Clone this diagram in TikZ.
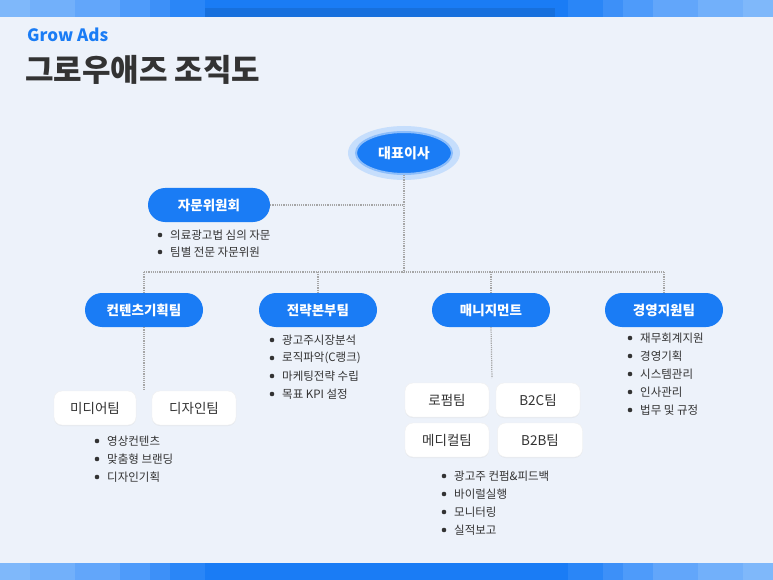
\documentclass[tikz,border=0pt]{standalone}
\usepackage{fontspec}
\setmainfont{Noto Sans CJK KR}
\usetikzlibrary{shapes.geometric,shadows}
\definecolor{mblue}{HTML}{1A7CF5}
\definecolor{bgc}{HTML}{EDF2FA}
\definecolor{txt}{HTML}{333333}
\tikzset{
 pill/.style={fill=mblue,rounded corners=17pt,minimum height=34pt,text=white,font=\fontsize{13.5}{13.5}\selectfont\bfseries,inner sep=0pt},
 wbox/.style={fill=white,draw=black!6,rounded corners=8pt,minimum height=34pt,text=txt,font=\fontsize{13.5}{13.5}\selectfont,inner sep=0pt,drop shadow={opacity=0.08,shadow xshift=0pt,shadow yshift=-1pt}},
 dl/.style={gray!70,densely dotted,line width=1.2pt},
 bl/.style={anchor=west,text=txt,font=\fontsize{11.5}{11.5}\selectfont,inner sep=0pt},
}
\newcommand{\bul}[3]{\fill[txt] (#1,#2) circle (2.3pt); \node[bl] at (#1+10,#2) {#3};}
\begin{document}
\begin{tikzpicture}[x=1pt,y=-1pt]
\useasboundingbox (0,0) rectangle (773,580);
\fill[bgc] (0,0) rectangle (773,580);
\foreach \x/\c in {0/7FB8FA,30/72B0FA,75/62A6FA,120/4E9BFA,150/3D90F8,170/2A86F7}{
  \definecolor{bc}{HTML}{\c}
  \fill[bc] (\x,0) rectangle (773-\x,17);
  \fill[bc] (\x,563) rectangle (773-\x,580);}
\fill[mblue] (205,0) rectangle (568,17);
\fill[mblue] (205,563) rectangle (568,580);
\fill[mblue!90!black] (205,8) rectangle (555,17);
\node[anchor=west,text=mblue,font=\fontsize{17}{17}\selectfont\bfseries,inner sep=0pt] (ga) at (27,35) {Grow Ads};
\node[anchor=west,text=txt,font=\fontsize{31}{31}\selectfont\bfseries,inner sep=0pt] (tt) at (25,70) {그로우애즈 조직도};
\fill[mblue!25] (404,153) ellipse (56pt and 27pt);
\node[ellipse,fill=mblue,draw=mblue!50,line width=2pt,minimum width=96pt,minimum height=42pt,text=white,font=\fontsize{14}{14}\selectfont\bfseries] (ceo) at (404,153) {대표이사};
\coordinate (j1) at (404,205);
\coordinate (j2) at (404,272);
\coordinate (hl) at (144,272);
\coordinate (hr) at (664,272);
\node[pill,minimum width=122pt] (adv) at (209,205) {자문위원회};
\node[pill,minimum width=118pt] (p1) at (144,310) {컨텐츠기획팀};
\node[pill,minimum width=118pt] (p2) at (318,310) {전략본부팀};
\node[pill,minimum width=118pt] (p3) at (491,310) {매니지먼트};
\node[pill,minimum width=118pt] (p4) at (664,310) {경영지원팀};
\draw[dl] (ceo.south) -- (j2);
\draw[dl] (adv.east) -- (j1);
\draw[dl] (hl) -- (hr);
\draw[dl] (hl) -- (p1.north);
\draw[dl] (318,272) -- (p2.north);
\draw[dl] (491,272) -- (p3.north);
\draw[dl] (hr) -- (p4.north);
\bul{160}{235}{의료광고법 심의 자문}
\bul{160}{252}{팀별 전문 자문위원}
\node[wbox,minimum width=82pt] (m1) at (95,408) {미디어팀};
\node[wbox,minimum width=84pt] (m2) at (194,408) {디자인팀};
\coordinate (c1b) at (144,390);
\draw[dl] (p1.south) -- (c1b);
\bul{97}{441}{영상컨텐츠}
\bul{97}{459}{맞춤형 브랜딩}
\bul{97}{477}{디자인기획}
\bul{272}{340}{광고주시장분석}
\bul{272}{358}{로직파악(C랭크)}
\bul{272}{376}{마케팅전략 수립}
\bul{272}{394}{목표 KPI 설정}
\coordinate (c3b) at (492,378);
\draw[dl] (p3.south) -- (c3b);
\node[wbox,minimum width=84pt] (t1) at (447,400) {로펌팀};
\node[wbox,minimum width=84pt] (t2) at (538,400) {B2C팀};
\node[wbox,minimum width=84pt] (t3) at (447,440) {메디컬팀};
\node[wbox,minimum width=85pt] (t4) at (540,440) {B2B팀};
\bul{444}{476}{광고주 컨펌\&피드백}
\bul{444}{494}{바이럴실행}
\bul{444}{512}{모니터링}
\bul{444}{530}{실적보고}
\bul{630}{338}{재무회계지원}
\bul{630}{356}{경영기획}
\bul{630}{374}{시스템관리}
\bul{630}{392}{인사관리}
\bul{630}{410}{법무 및 규정}
\end{tikzpicture}
\end{document}
